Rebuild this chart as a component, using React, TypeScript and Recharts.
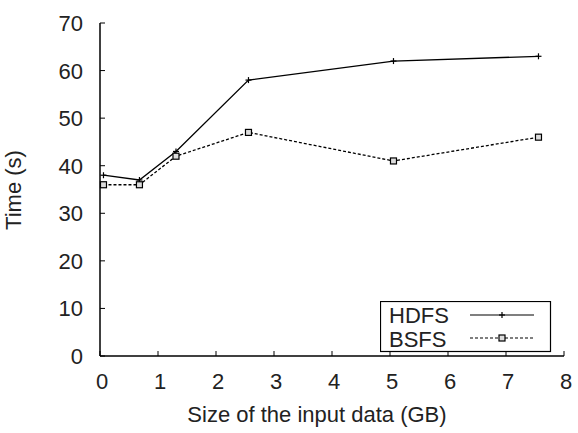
import { LineChart, Line, XAxis, YAxis, Legend } from 'recharts';

// input size (GB) and job time (s) per file system
const sizes = [0.06, 0.68, 1.31, 2.56, 5.06, 7.56];
const hdfsTime = [38, 37, 43, 58, 62, 63];
const bsfsTime = [36, 36, 42, 47, 41, 46];
const xTicks = [0, 1, 2, 3, 4, 5, 6, 7, 8];
const yTicks = [0, 10, 20, 30, 40, 50, 60, 70];

const data = sizes.map((s, i) => ({ size: s, hdfs: hdfsTime[i], bsfs: bsfsTime[i] }));

const FONT = '"Liberation Sans", Arial, sans-serif';

const XTick = ({ x, y, payload }: any) => (
  <g>
    <line x1={x} y1={y} x2={x} y2={y - 5} stroke="#000" strokeWidth={1} />
    <text x={x + 2} y={y + 33} textAnchor="middle" fontSize={22} fill="#222" fontFamily={FONT}>
      {payload.value}
    </text>
  </g>
);

const YTick = ({ x, y, payload }: any) => (
  <g>
    <line x1={x} y1={y} x2={x + 5} y2={y} stroke="#000" strokeWidth={1} />
    <text x={x - 17} y={y + 8} textAnchor="end" fontSize={22} fill="#222" fontFamily={FONT}>
      {payload.value}
    </text>
  </g>
);

const PlusDot = ({ cx, cy }: any) => (
  <g>
    <line x1={cx - 3} y1={cy} x2={cx + 3} y2={cy} stroke="#000" strokeWidth={1.2} />
    <line x1={cx} y1={cy - 3} x2={cx} y2={cy + 3} stroke="#000" strokeWidth={1.2} />
  </g>
);

const SquareDot = ({ cx, cy }: any) => (
  <rect x={cx - 3} y={cy - 3} width={6} height={6} fill="#ddd" stroke="#000" strokeWidth={1.2} />
);

const LegendBox = () => (
  <svg width={172} height={52} style={{ display: 'block' }}>
    <rect x={0.5} y={0.5} width={170} height={50} fill="#fff" stroke="#000" strokeWidth={1.2} />
    <text x={9} y={22} fontSize={22} fill="#222" fontFamily={FONT}>HDFS</text>
    <text x={9} y={46} fontSize={22} fill="#222" fontFamily={FONT}>BSFS</text>
    <line x1={90} y1={14} x2={154} y2={14} stroke="#000" strokeWidth={1.2} />
    <PlusDot cx={122} cy={14} />
    <line x1={90} y1={37} x2={154} y2={37} stroke="#000" strokeWidth={1.2} strokeDasharray="3 2" />
    <SquareDot cx={122} cy={37} />
  </svg>
);

export default function App() {
  return (
    <div style={{ position: 'absolute', left: 0, top: 0, background: '#fff' }}>
      <LineChart width={578} height={433} data={data} margin={{ top: 23, right: 14, left: 0, bottom: 0 }}>
        <XAxis
          dataKey="size"
          type="number"
          domain={[0, 8]}
          ticks={xTicks}
          height={77}
          tickSize={0}
          tickMargin={0}
          tick={<XTick />}
          axisLine={{ stroke: '#000', strokeWidth: 1.5 }}
          label={{
            content: ({ viewBox }: any) => (
              <text x={317} y={viewBox.y + 66} textAnchor="middle" fontSize={22} fill="#222" fontFamily={FONT}>
                Size of the input data (GB)
              </text>
            ),
          }}
        />
        <YAxis
          type="number"
          domain={[0, 70]}
          ticks={yTicks}
          width={100}
          tickSize={0}
          tickMargin={0}
          tick={<YTick />}
          axisLine={{ stroke: '#000', strokeWidth: 1.5 }}
          label={{
            content: () => (
              <text x={0} y={0} transform="translate(21, 190) rotate(-90)" textAnchor="middle" fontSize={22} fill="#222" fontFamily={FONT}>
                Time (s)
              </text>
            ),
          }}
        />
        <Legend
          layout="horizontal"
          verticalAlign="middle"
          align="center"
          content={<LegendBox />}
          wrapperStyle={{ position: 'absolute', left: 380, top: 301, width: 172, height: 52 }}
        />
        <Line
          dataKey="hdfs"
          name="HDFS"
          type="linear"
          stroke="#000"
          strokeWidth={1.3}
          dot={<PlusDot />}
          activeDot={false}
          isAnimationActive={false}
        />
        <Line
          dataKey="bsfs"
          name="BSFS"
          type="linear"
          stroke="#000"
          strokeWidth={1.3}
          strokeDasharray="3 2"
          dot={<SquareDot />}
          activeDot={false}
          isAnimationActive={false}
        />
      </LineChart>
    </div>
  );
}
